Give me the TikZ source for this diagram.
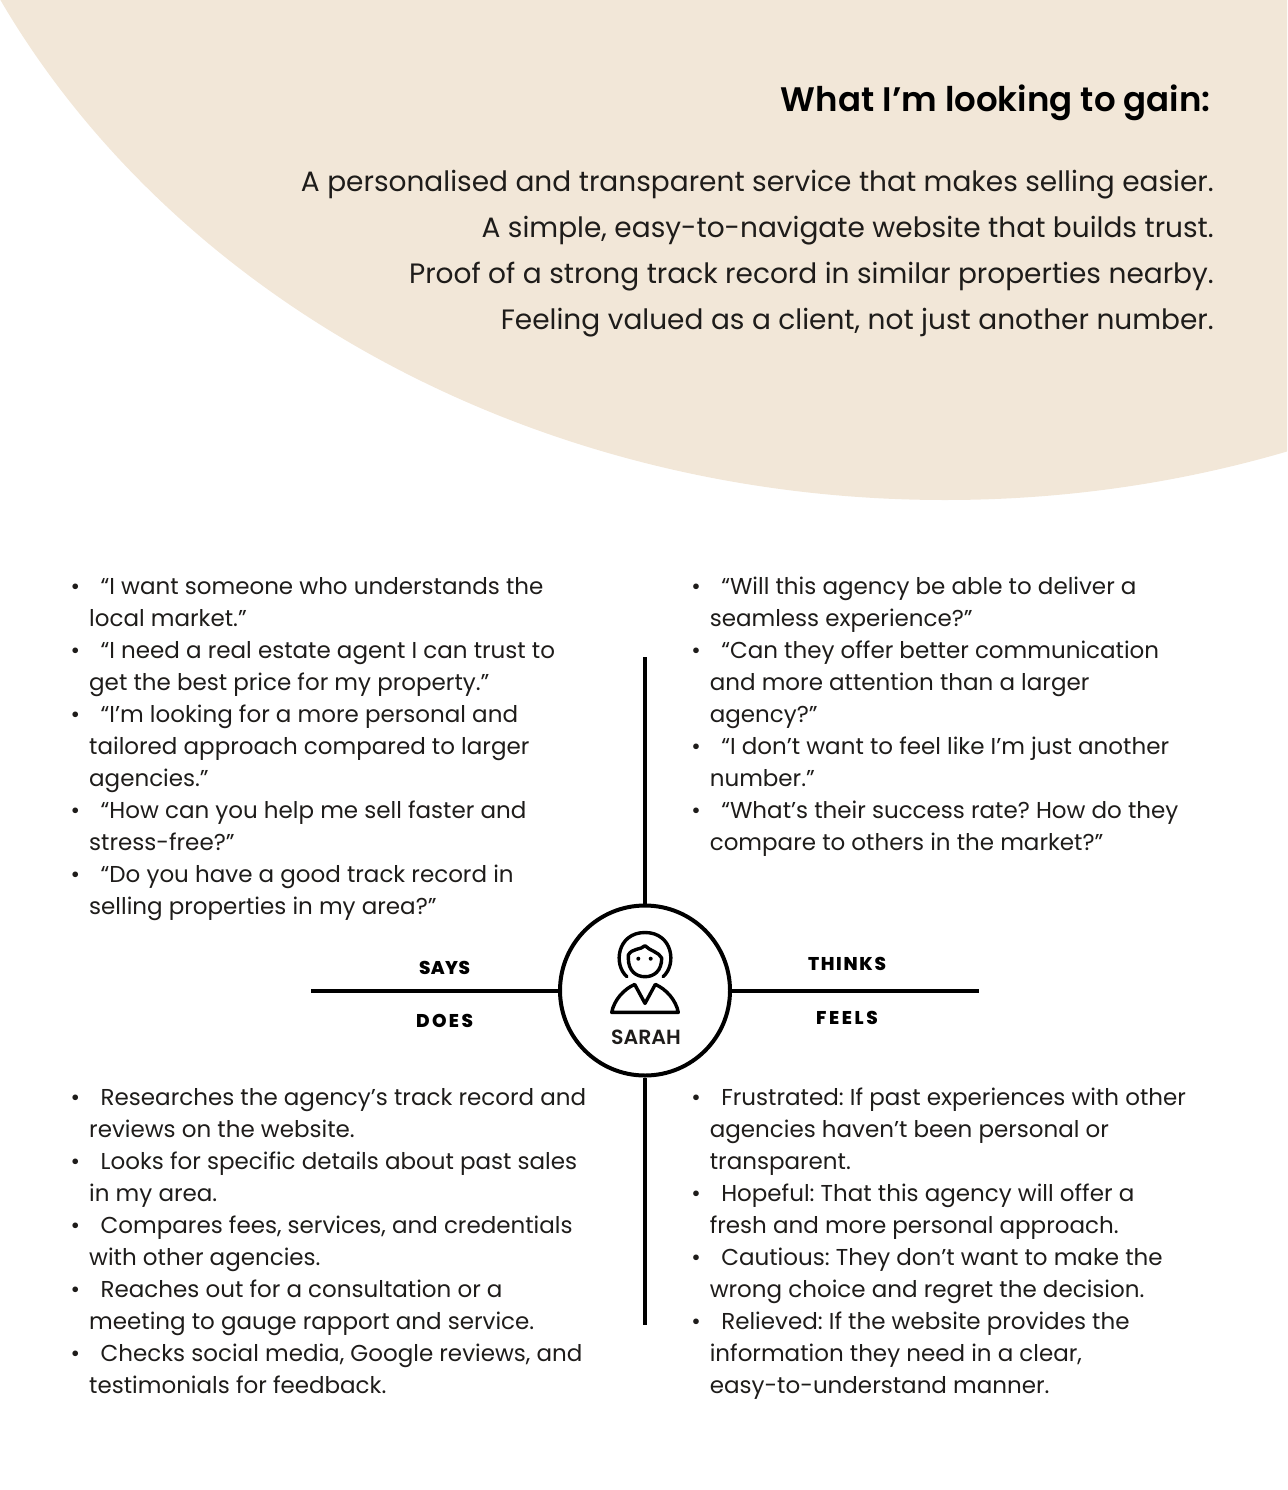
\documentclass[tikz,border=0pt]{standalone}
\usepackage{fontspec}
\setmainfont{Poppins}
\newfontfamily\popsemi{Poppins SemiBold}
\newfontfamily\popbold{Poppins ExtraBold}
\definecolor{sand}{HTML}{F2E7D8}
\definecolor{ink}{HTML}{1E1C1A}
\newcommand{\bitem}[1]{\makebox[0pt][r]{•\hspace{9pt}}\hspace{11.5pt}#1}
\tikzset{
  listtext/.style={anchor=north west,align=left,inner sep=0pt,text=ink,font=\frenchspacing\fontsize{23}{32}\selectfont},
  gaintext/.style={anchor=base east,inner sep=0pt,text=ink,font=\frenchspacing\fontsize{28}{36}\selectfont},
  quadlabel/.style={anchor=base,inner sep=0pt,text=black,font=\popbold\fontsize{18.5}{18}\selectfont\addfontfeature{LetterSpace=#1}},
  axis/.style={line width=4pt,black},
  icon/.style={line width=3.4pt,black,line cap=round,line join=round}
}
\begin{document}
\begin{tikzpicture}[x=1pt,y=-1pt]
\useasboundingbox (0,0) rectangle (1287,1490);
\begin{scope}
\clip (0,0) rectangle (1287,1490);
\fill[sand] (945,-405) ellipse [x radius=1056,y radius=905];
\end{scope}
\node[anchor=base east,inner sep=0pt,text=black,font=\frenchspacing\popsemi\fontsize{34}{40}\selectfont] (title) at (1211,111.5) {What I’m looking to gain:};
\node[gaintext] (g1) at (1214,191) {A personalised and transparent service that makes selling easier.};
\node[gaintext] (g2) at (1214,237) {A simple, easy-to-navigate website that builds trust.};
\node[gaintext] (g3) at (1214,283) {Proof of a strong track record in similar properties nearby.};
\node[gaintext] (g4) at (1214,329) {Feeling valued as a client, not just another number.};
\node[listtext] (says) at (89,577) {\bitem{“I want someone who understands the}\\local market.”\\
\bitem{“I need a real estate agent I can trust to}\\get the best price for my property.”\\
\bitem{“I’m looking for a more personal and}\\tailored approach compared to larger\\agencies.”\\
\bitem{“How can you help me sell faster and}\\stress-free?”\\
\bitem{“Do you have a good track record in}\\selling properties in my area?”};
\node[listtext] (thinks) at (709.6,577) {\bitem{“Will this agency be able to deliver a}\\seamless experience?”\\
\bitem{“Can they offer better communication}\\and more attention than a larger\\agency?”\\
\bitem{“I don’t want to feel like I’m just another}\\number.”\\
\bitem{“What’s their success rate? How do they}\\compare to others in the market?”};
\node[listtext] (does) at (89,1088) {\bitem{Researches the agency’s track record and}\\reviews on the website.\\
\bitem{Looks for specific details about past sales}\\in my area.\\
\bitem{Compares fees, services, and credentials}\\with other agencies.\\
\bitem{Reaches out for a consultation or a}\\meeting to gauge rapport and service.\\
\bitem{Checks social media, Google reviews, and}\\testimonials for feedback.};
\node[listtext] (feels) at (709.6,1088) {\bitem{Frustrated: If past experiences with other}\\agencies haven’t been personal or\\transparent.\\
\bitem{Hopeful: That this agency will offer a}\\fresh and more personal approach.\\
\bitem{Cautious: They don’t want to make the}\\wrong choice and regret the decision.\\
\bitem{Relieved: If the website provides the}\\information they need in a clear,\\easy-to-understand manner.};
\node[circle,draw=black,line width=4pt,minimum size=170pt,inner sep=0pt] (hub) at (645,990.5) {};
\coordinate (top) at (645,657);
\coordinate (bottom) at (645,1325);
\coordinate (left) at (311,990.5);
\coordinate (right) at (979,990.5);
\draw[axis] (top) -- (hub.north);
\draw[axis] (hub.south) -- (bottom);
\draw[axis] (left) -- (hub.west);
\draw[axis] (hub.east) -- (right);
\node[quadlabel=2] (lsays) at (444.5,974) {SAYS};
\node[quadlabel=13] (ldoes) at (444.5,1027) {DOES};
\node[quadlabel=9] (lthinks) at (847,970.7) {THINKS};
\node[quadlabel=14] (lfeels) at (847,1024) {FEELS};
\node[anchor=base,inner sep=0pt,text=ink,font=\popsemi\fontsize{20.5}{20}\selectfont] (name) at (646,1044) {SARAH};
% icon
\draw[icon] (627,976.7) .. controls (613,965) and (617,932.5) .. (645,932.5) .. controls (673,932.5) and (677,965) .. (663,976.7);
\draw[icon] (628.3,958) .. controls (628.3,971) and (636,976.7) .. (645,976.7) .. controls (654,976.7) and (661.7,971) .. (661.7,958) .. controls (659,952) and (650,951) .. (645,945.7) .. controls (641,950) and (632,948) .. (628.3,955) -- cycle;
\fill (638.3,958.7) circle (2);
\fill (650.7,958.7) circle (2);
\draw[icon] (611.7,1012.4) -- (678.3,1012.4) .. controls (676,1000) and (666,989) .. (655.3,984.4) -- (645,1003.4) -- (634.7,984.4) .. controls (624,989) and (614,1000) .. (611.7,1012.4) -- cycle;
\end{tikzpicture}
\end{document}
